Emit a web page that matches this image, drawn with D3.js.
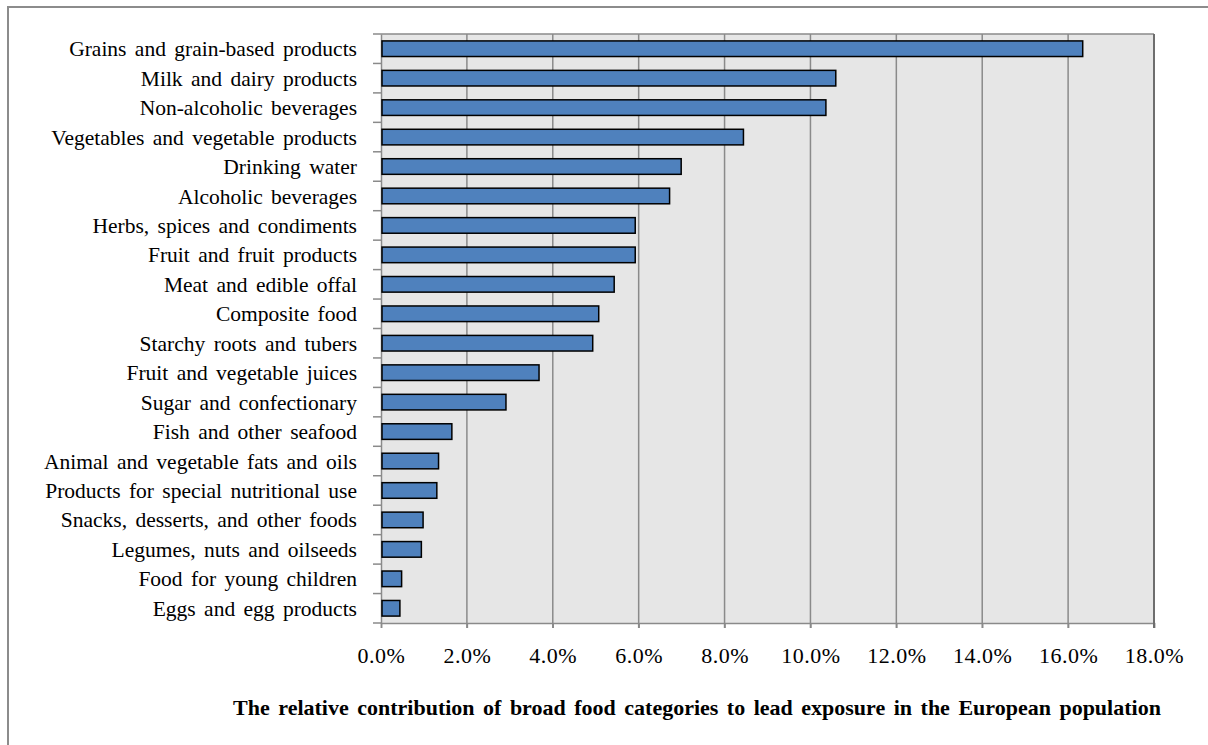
<!DOCTYPE html>
<html lang="en">
<head>
    <meta charset="UTF-8">
    <title>Lead exposure by food category</title>
    <script src="https://cdn.jsdelivr.net/npm/d3@7"></script>
    <style>
        body {
            margin: 0;
            background: #fff;
        }

        svg text {
            font-family: "Liberation Serif", "Times New Roman", serif;
            fill: #000;
        }

        .cat-label {
            font-size: 21.5px;
            word-spacing: 3px;
        }

        .tick-label {
            font-size: 22px;
            letter-spacing: 0.5px;
        }

        .title {
            font-size: 22px;
            font-weight: bold;
            word-spacing: 3px;
            text-anchor: middle;
        }
    </style>
</head>
<body>
<div id="chart"></div>
<script>
// data (percent)
let categories = [
    'Grains and grain-based products',
    'Milk and dairy products',
    'Non-alcoholic beverages',
    'Vegetables and vegetable products',
    'Drinking water',
    'Alcoholic beverages',
    'Herbs, spices and condiments',
    'Fruit and fruit products',
    'Meat and edible offal',
    'Composite food',
    'Starchy roots and tubers',
    'Fruit and vegetable juices',
    'Sugar and confectionary',
    'Fish and other seafood',
    'Animal and vegetable fats and oils',
    'Products for special nutritional use',
    'Snacks, desserts, and other foods',
    'Legumes, nuts and oilseeds',
    'Food for young children',
    'Eggs and egg products'
]
let contribution = [16.34, 10.59, 10.36, 8.44, 6.99, 6.72, 5.92, 5.92, 5.43, 5.07,
    4.93, 3.68, 2.91, 1.65, 1.34, 1.30, 0.98, 0.94, 0.48, 0.44]
let xTicks = [0, 2, 4, 6, 8, 10, 12, 14, 16, 18]
let titleText = 'The relative contribution of broad food categories to lead exposure in the European population'

let width = 1208, height = 745
let plot = {left: 381, right: 1154, top: 34, bottom: 623}

let svg = d3.select('#chart').append('svg')
    .attr('width', width)
    .attr('height', height)

// outer frame
svg.append('rect')
    .attr('x', 8).attr('y', 7)
    .attr('width', width).attr('height', height)
    .attr('fill', 'none')
    .attr('stroke', '#8c8c8c')
    .attr('stroke-width', 2)

let x = d3.scaleLinear().domain([0, 18]).range([plot.left, plot.right])
let y = d3.scaleBand().domain(categories).range([plot.top, plot.bottom]).paddingInner(0.47).paddingOuter(0.235)

// plot background
svg.append('rect')
    .attr('x', plot.left).attr('y', plot.top)
    .attr('width', plot.right - plot.left).attr('height', plot.bottom - plot.top)
    .attr('fill', '#e6e6e6')

// vertical gridlines
svg.append('g').selectAll('line')
    .data(xTicks.slice(1))
    .enter().append('line')
    .attr('x1', d => x(d)).attr('x2', d => x(d))
    .attr('y1', plot.top).attr('y2', plot.bottom + 5)
    .attr('stroke', '#8a8a8a')
    .attr('stroke-width', 1.5)

// top border
svg.append('line')
    .attr('x1', plot.left).attr('x2', plot.right)
    .attr('y1', plot.top).attr('y2', plot.top)
    .attr('stroke', '#8a8a8a').attr('stroke-width', 1.5)

// category axis
let yAxis = d3.axisLeft(y).tickSize(0).tickPadding(24)
let gy = svg.append('g').attr('transform', `translate(${plot.left},0)`).call(yAxis)
    .attr('font-family', null).attr('font-size', null)
gy.select('.domain').attr('stroke', '#8a8a8a').attr('stroke-width', 1.5)
gy.selectAll('text').attr('class', 'cat-label').attr('dy', '0.35em')

// small ticks between categories
let bounds = d3.range(categories.length + 1).map(i => plot.top + i * (plot.bottom - plot.top) / categories.length)
svg.append('g').selectAll('line')
    .data(bounds)
    .enter().append('line')
    .attr('x1', plot.left - 8).attr('x2', plot.left)
    .attr('y1', d => d).attr('y2', d => d)
    .attr('stroke', '#8a8a8a').attr('stroke-width', 1.5)

// bars
svg.append('g').selectAll('rect')
    .data(contribution)
    .enter().append('rect')
    .attr('x', x(0) + 1)
    .attr('y', (d, i) => y(categories[i]))
    .attr('width', d => x(d) - x(0) - 1)
    .attr('height', y.bandwidth())
    .attr('fill', '#4f81bd')
    .attr('stroke', '#000')
    .attr('stroke-width', 1.5)

// value axis
let xAxis = d3.axisBottom(x).tickValues(xTicks).tickSize(5).tickPadding(19)
    .tickFormat(d => d.toFixed(1) + '%')
let gx = svg.append('g').attr('transform', `translate(0,${plot.bottom})`).call(xAxis)
    .attr('font-family', null).attr('font-size', null)
gx.select('.domain').attr('stroke', '#8a8a8a').attr('stroke-width', 1.5)
gx.selectAll('.tick line').attr('stroke', '#8a8a8a').attr('stroke-width', 1.5)
gx.selectAll('text').attr('class', 'tick-label')

// right border of plot
svg.append('line')
    .attr('x1', plot.right).attr('x2', plot.right)
    .attr('y1', plot.top).attr('y2', plot.bottom + 5)
    .attr('stroke', '#6e6e6e').attr('stroke-width', 2)

// title
svg.append('text')
    .attr('class', 'title')
    .attr('x', 697).attr('y', 715)
    .text(titleText)
</script>
</body>
</html>
